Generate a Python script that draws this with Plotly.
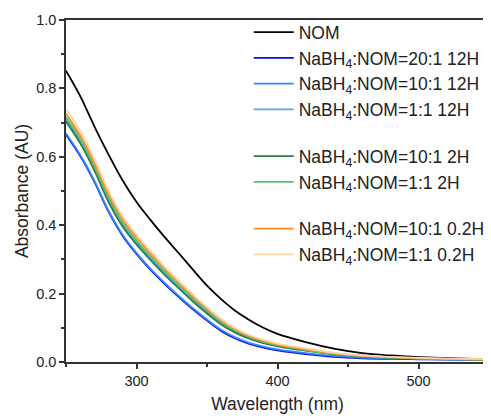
import plotly.graph_objects as go

wavelength = [250, 260, 270, 280, 290, 300, 310, 320, 330, 340, 350, 360, 370, 380, 390, 400,
              420, 440, 460, 480, 500, 520, 550]

nom = [0.852, 0.778, 0.690, 0.608, 0.532, 0.468, 0.415, 0.365, 0.318, 0.270, 0.223, 0.184,
       0.150, 0.123, 0.100, 0.082, 0.058, 0.039, 0.026, 0.019, 0.0145, 0.0115, 0.008]
r20_12h = [0.665, 0.603, 0.528, 0.441, 0.370, 0.316, 0.269, 0.228, 0.190, 0.154, 0.121, 0.091,
           0.069, 0.053, 0.042, 0.034, 0.023, 0.015, 0.011, 0.009, 0.008, 0.007, 0.0065]
r10_12h = [0.668, 0.606, 0.531, 0.444, 0.373, 0.319, 0.272, 0.231, 0.193, 0.157, 0.124, 0.094,
           0.072, 0.056, 0.045, 0.037, 0.026, 0.018, 0.013, 0.011, 0.009, 0.008, 0.007]
r1_12h = [0.710, 0.646, 0.567, 0.475, 0.403, 0.349, 0.303, 0.260, 0.219, 0.181, 0.146, 0.113,
          0.089, 0.070, 0.057, 0.047, 0.034, 0.023, 0.016, 0.013, 0.0105, 0.009, 0.007]
r10_2h = [0.703, 0.640, 0.561, 0.469, 0.397, 0.344, 0.298, 0.255, 0.215, 0.177, 0.142, 0.110,
          0.086, 0.068, 0.055, 0.046, 0.033, 0.023, 0.016, 0.013, 0.0105, 0.009, 0.007]
r1_2h = [0.716, 0.653, 0.573, 0.482, 0.409, 0.355, 0.309, 0.265, 0.224, 0.186, 0.150, 0.117,
         0.092, 0.073, 0.059, 0.049, 0.035, 0.024, 0.017, 0.0135, 0.011, 0.009, 0.007]
r10_02h = [0.726, 0.663, 0.583, 0.492, 0.418, 0.364, 0.317, 0.272, 0.231, 0.192, 0.156, 0.122,
           0.096, 0.076, 0.062, 0.051, 0.037, 0.025, 0.018, 0.014, 0.011, 0.009, 0.007]
r1_02h = [0.740, 0.676, 0.595, 0.502, 0.427, 0.372, 0.324, 0.278, 0.237, 0.197, 0.160, 0.126,
          0.099, 0.079, 0.065, 0.054, 0.040, 0.027, 0.019, 0.015, 0.012, 0.010, 0.008]

series = [
    ("NOM", nom, "#000000", "g1"),
    ("NaBH<sub>4</sub>:NOM=20:1 12H", r20_12h, "#0a0ae6", "g1"),
    ("NaBH<sub>4</sub>:NOM=10:1 12H", r10_12h, "#3388f5", "g1"),
    ("NaBH<sub>4</sub>:NOM=1:1 12H", r1_12h, "#63a6e0", "g1"),
    ("NaBH<sub>4</sub>:NOM=10:1 2H", r10_2h, "#2e7d4f", "g2"),
    ("NaBH<sub>4</sub>:NOM=1:1 2H", r1_2h, "#4cc47c", "g2"),
    ("NaBH<sub>4</sub>:NOM=10:1 0.2H", r10_02h, "#ff8c1a", "g3"),
    ("NaBH<sub>4</sub>:NOM=1:1 0.2H", r1_02h, "#ffd3a6", "g3"),
]

FONT = "Liberation Sans, Arial, sans-serif"
fig = go.Figure()
for name, ys, color, grp in series:
    fig.add_trace(go.Scatter(x=wavelength, y=ys, mode="lines", name=name,
                             legendgroup=grp,
                             line=dict(color=color, width=1.8, shape="spline", smoothing=1.0)))

axis_common = dict(showline=True, linecolor="#333333", linewidth=1.5, mirror=True,
                   ticks="outside", ticklen=5, tickwidth=1.5, tickcolor="#333333",
                   showgrid=False, zeroline=False, automargin=False,
                   tickfont=dict(family=FONT, size=14.5, color="#222222"),
                   title_font=dict(family=FONT, size=17.5, color="#222222"))

fig.update_xaxes(range=[250, 550], dtick=100, tick0=300,
                 minor=dict(dtick=50, ticks="outside", ticklen=3, tickwidth=1.5, tickcolor="#333333"),
                 title_text="Wavelength (nm)", title_standoff=10, **axis_common)
fig.update_yaxes(range=[0, 1.0], dtick=0.2, tickformat=".1f",
                 minor=dict(dtick=0.1, ticks="outside", ticklen=3, tickwidth=1.5, tickcolor="#333333"),
                 title_text="Absorbance (AU)", title_standoff=3, **axis_common)

# the page body adds an 8px offset, so the figure is sized to fill the 491x418 window
fig.update_layout(
    width=483, height=410,
    margin=dict(l=58, r=2, t=12, b=56, autoexpand=False),
    paper_bgcolor="white", plot_bgcolor="white",
    font=dict(family=FONT, color="#222222"),
    legend=dict(x=0.432, y=1.017, xanchor="left", yanchor="top",
                bgcolor="rgba(0,0,0,0)", borderwidth=0, maxheight=330,
                font=dict(family=FONT, size=17.5, color="#222222"),
                traceorder="grouped", tracegroupgap=21, itemwidth=40),
)

fig.write_html("out.html")
